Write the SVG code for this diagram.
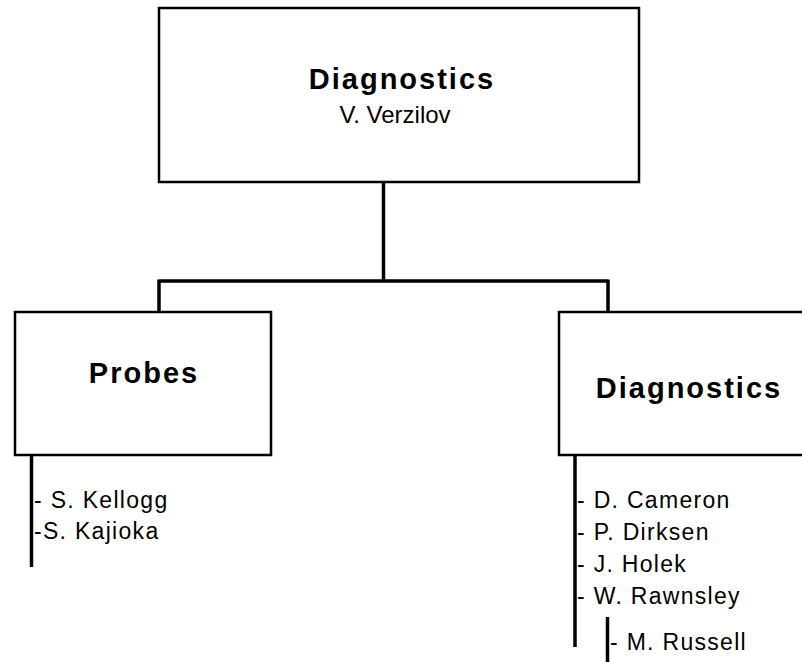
<svg xmlns="http://www.w3.org/2000/svg" width="802" height="662" viewBox="0 0 802 662">
<style>
.box{fill:#fff;stroke:#000;stroke-width:2.5}
.ln{stroke:#000;stroke-width:3.5;fill:none}
.h{font-family:"Liberation Sans",Arial,sans-serif;font-weight:bold;font-size:29px;letter-spacing:2px;text-anchor:middle;fill:#000}
.s{font-family:"Liberation Sans",Arial,sans-serif;font-size:24px;text-anchor:middle;fill:#000}
.n{font-family:"Liberation Sans",Arial,sans-serif;font-size:23px;letter-spacing:1.3px;fill:#000}
</style>
<rect width="802" height="662" fill="#fff"/>
<g id="connectors">
<path class="ln" d="M383.5 182 V281 M159 281 H608 M159 279.5 V312 M608 279.5 V312"/>
<path class="ln" d="M31.5 455 V567"/>
<path class="ln" d="M575 455 V647"/>
<path class="ln" d="M607.5 617 V662"/>
</g>
<g id="top">
<rect class="box" x="159" y="8" width="480" height="174"/>
<text class="h" x="402" y="89">Diagnostics</text>
<text class="s" x="395" y="123">V. Verzilov</text>
</g>
<g id="probes">
<rect class="box" x="15" y="312" width="256" height="143"/>
<text class="h" x="144" y="383">Probes</text>
</g>
<g id="probes-members">
<text class="n" x="34" y="508">-  S. Kellogg</text>
<text class="n" x="34" y="539">-S. Kajioka</text>
</g>
<g id="diag">
<rect class="box" x="559" y="312" width="260" height="143"/>
<text class="h" x="689" y="398">Diagnostics</text>
</g>
<g id="diag-members">
<text class="n" x="577" y="508">-  D. Cameron</text>
<text class="n" x="577" y="540">-  P. Dirksen</text>
<text class="n" x="577" y="572">-  J. Holek</text>
<text class="n" x="577" y="604">-  W. Rawnsley</text>
<text class="n" x="610" y="650">-  M. Russell</text>
</g>
</svg>
